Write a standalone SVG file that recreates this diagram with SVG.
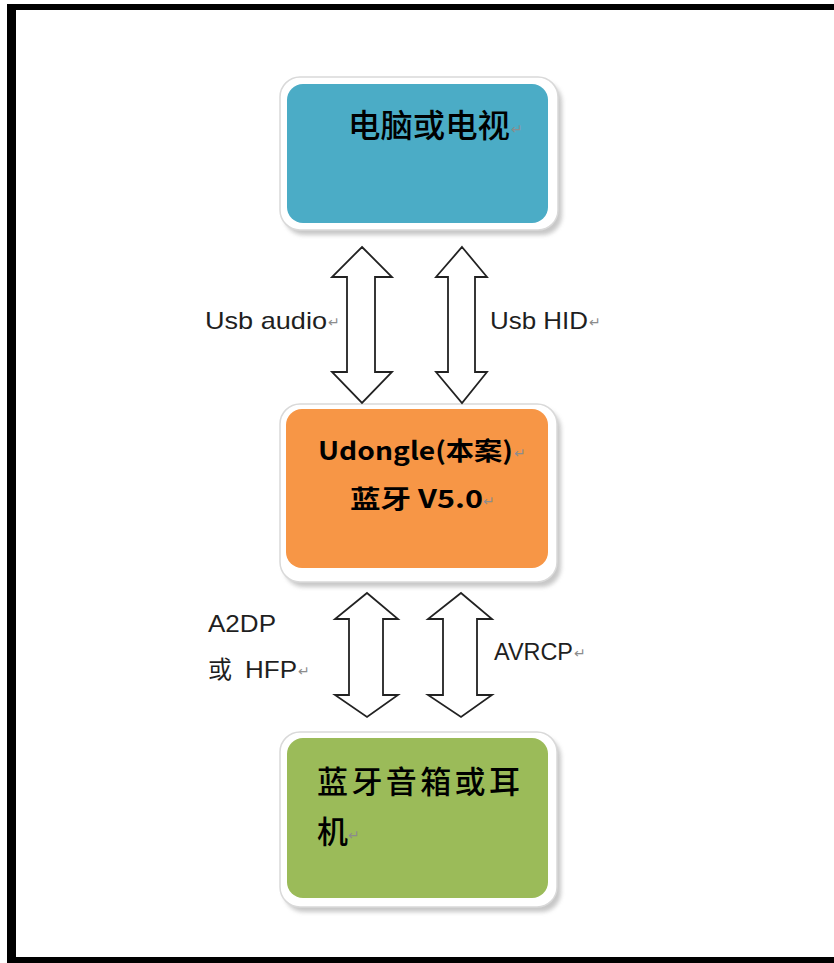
<svg xmlns="http://www.w3.org/2000/svg" width="834" height="963" viewBox="0 0 834 963">
<style>
.frame{fill:#ffffff;stroke:#d9d9d9;stroke-width:1.5}
.shadow{fill:#9a9a9a;opacity:0.55}
.cjk{font-family:"Noto Sans CJK SC","Liberation Sans",sans-serif;fill:#000}
.lbl{font-family:"Liberation Sans","Noto Sans CJK SC",sans-serif;font-size:24px;fill:#1f1f1f}
.ret{font-family:"DejaVu Sans",sans-serif;font-size:14px;fill:#8c8c8c}
.arrow{fill:#ffffff;stroke:#222;stroke-width:1.8;stroke-linejoin:miter}
</style>
<defs>
<filter id="blur" x="-10%" y="-10%" width="120%" height="120%"><feGaussianBlur stdDeviation="2"/></filter>
</defs>
<rect x="0" y="0" width="834" height="963" fill="#ffffff"/>
<g id="border" fill="#000">
<rect x="7" y="4" width="827" height="6"/>
<rect x="7" y="4" width="9" height="959"/>
<rect x="7" y="957" width="827" height="6"/>
</g>
<g id="node-pc">
<rect class="shadow" x="284" y="82" width="278" height="153" rx="20" filter="url(#blur)"/>
<rect class="frame" x="280" y="77" width="278" height="153" rx="20"/>
<rect x="287" y="84" width="261" height="139" rx="16" fill="#4bacc6"/>
<text class="cjk" x="348" y="137" font-size="32" font-weight="500" textLength="162" lengthAdjust="spacingAndGlyphs">电脑或电视</text>
<text class="ret" x="511" y="134">↵</text>
</g>
<g id="node-udongle">
<rect class="shadow" x="284" y="409" width="277" height="178" rx="20" filter="url(#blur)"/>
<rect class="frame" x="280" y="404" width="277" height="178" rx="20"/>
<rect x="286" y="409" width="262" height="159" rx="16" fill="#f79646"/>
<text class="cjk" x="318" y="460" font-size="25" font-weight="bold" textLength="195" lengthAdjust="spacingAndGlyphs">Udongle(本案)</text>
<text class="ret" x="514" y="458">↵</text>
<text class="cjk" x="350" y="508" font-size="25" font-weight="bold" textLength="133" lengthAdjust="spacingAndGlyphs">蓝牙 V5.0</text>
<text class="ret" x="483" y="506">↵</text>
</g>
<g id="node-speaker">
<rect class="shadow" x="284" y="737" width="277" height="175" rx="20" filter="url(#blur)"/>
<rect class="frame" x="280" y="732" width="277" height="175" rx="20"/>
<rect x="287" y="738" width="261" height="160" rx="16" fill="#9bbb59"/>
<text class="cjk" x="317" y="793" font-size="31" font-weight="500" textLength="203">蓝牙音箱或耳</text>
<text class="cjk" x="317" y="843" font-size="31" font-weight="500">机</text>
<text class="ret" x="348" y="840">↵</text>
</g>
<g id="connectors">
<path class="arrow" d="M362,247 L392,277 L375,277 L375,372 L392,372 L362,403 L332,372 L347,372 L347,277 L332,277 Z"/>
<path class="arrow" d="M462,247 L487,277 L475,277 L475,372 L487,372 L462,403 L436,372 L448,372 L448,277 L436,277 Z"/>
<path class="arrow" d="M367,593 L398,619 L383,619 L383,695 L398,695 L367,717 L335,695 L349,695 L349,619 L335,619 Z"/>
<path class="arrow" d="M461,593 L492,619 L477,619 L477,695 L492,695 L461,717 L428,695 L443,695 L443,619 L428,619 Z"/>
</g>
<g id="labels">
<text class="lbl" x="205" y="329" textLength="122" lengthAdjust="spacingAndGlyphs">Usb audio</text>
<text class="ret" x="328" y="327">↵</text>
<text class="lbl" x="490" y="329" textLength="98" lengthAdjust="spacingAndGlyphs">Usb HID</text>
<text class="ret" x="589" y="327">↵</text>
<text class="lbl" x="208" y="632" textLength="68" lengthAdjust="spacingAndGlyphs">A2DP</text>
<text class="lbl" x="208" y="678" font-size="26">或</text>
<text class="lbl" x="245" y="678" textLength="52" lengthAdjust="spacingAndGlyphs">HFP</text>
<text class="ret" x="298" y="676">↵</text>
<text class="lbl" x="494" y="660" textLength="79" lengthAdjust="spacingAndGlyphs">AVRCP</text>
<text class="ret" x="574" y="658">↵</text>
</g>
</svg>
